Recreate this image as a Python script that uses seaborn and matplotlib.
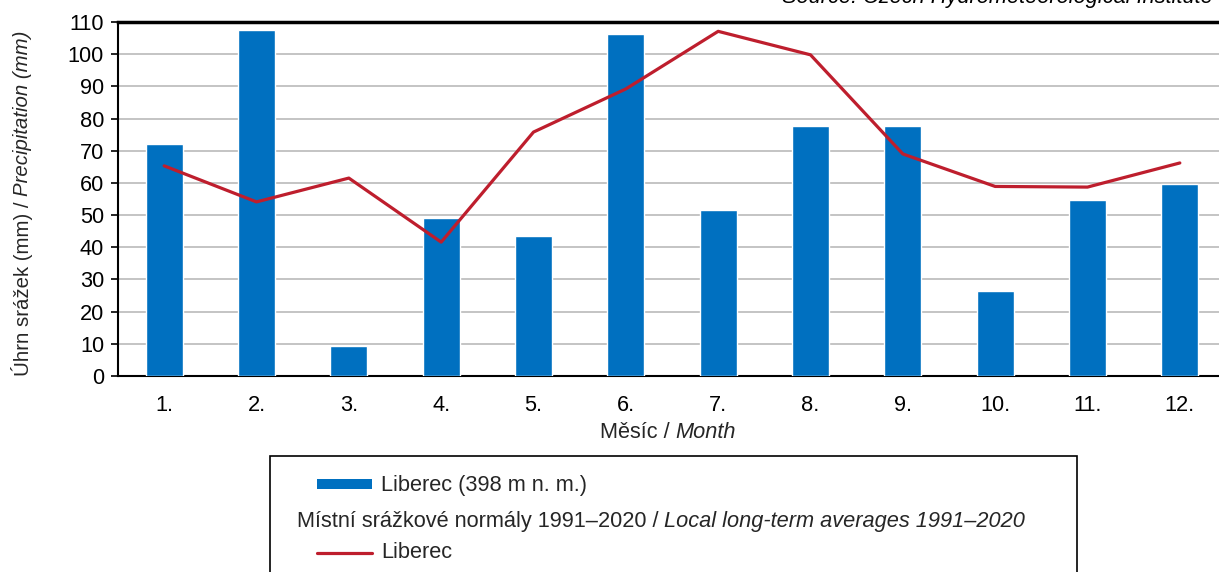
import matplotlib
matplotlib.use("Agg")
import matplotlib.pyplot as plt
import seaborn as sns
import pandas as pd
import numpy as np
from matplotlib.patches import Rectangle
from matplotlib.lines import Line2D

months = ["1.", "2.", "3.", "4.", "5.", "6.", "7.", "8.", "9.", "10.", "11.", "12."]
precip_2021 = [72.1, 107.5, 9.3, 49.1, 43.5, 106.4, 51.7, 77.7, 77.7, 26.4, 54.8, 59.8]
normal_1991_2020 = [65.3, 54.1, 61.5, 41.6, 75.8, 89.2, 107.1, 99.8, 69.0, 58.9, 58.7, 66.2]
yticks = list(range(0, 111, 10))

BLUE = "#0070C0"
RED = "#BE1E2D"

sns.set_theme(style="white")
plt.rcParams["font.family"] = ["Liberation Sans", "DejaVu Sans"]

W, H = 1219, 572
fig = plt.figure(figsize=(W / 100, H / 100), dpi=100)

def fx(px):
    return px / W

def fy(py):
    return 1 - py / H

fs = 15.7
fs_y = 14.7

left, right, top, bottom = 118, 1226, 22, 376
ax = fig.add_axes([fx(left), fy(bottom), fx(right - left), fy(top) - fy(bottom)])

df = pd.DataFrame({"month": months, "precip": precip_2021, "normal": normal_1991_2020})
sns.barplot(data=df, x="month", y="precip", color=BLUE, width=0.4, saturation=1,
            ax=ax, zorder=3)
df["pos"] = np.arange(len(months))
sns.lineplot(data=df, x="pos", y="normal", color=RED, linewidth=2.3, ax=ax, zorder=4)

ax.set_xlim(-0.5, len(months) - 0.5)
ax.set_ylim(0, 110)
ax.set_yticks(yticks)
ax.set_yticklabels([str(v) for v in yticks], fontsize=fs, color="black")
ax.set_xticks(np.arange(len(months)))
ax.set_xticklabels(months, fontsize=fs, color="black")
ax.tick_params(axis="x", which="major", length=0, pad=14)
ax.set_xticks(np.arange(len(months) + 1) - 0.5, minor=True)
ax.tick_params(axis="x", which="minor", length=5, width=1.2, color="black", direction="out")
ax.tick_params(axis="y", length=5, width=1.2, color="black", direction="out", pad=5, left=True)
ax.set_xlabel("")
ax.set_ylabel("")
ax.yaxis.grid(True, color="#c4c4c4", linewidth=1.4, zorder=0)
ax.set_axisbelow(True)
for side in ["left", "bottom"]:
    ax.spines[side].set_color("black")
    ax.spines[side].set_linewidth(1.5)
ax.spines["top"].set_color("black")
ax.spines["top"].set_linewidth(2.5)
ax.spines["right"].set_visible(False)

fig.canvas.draw()
renderer = fig.canvas.get_renderer()

# Source text (cut off at top, as in the reference)
fig.text(fx(1213), fy(3), "Source: Czech Hydrometeorological Institute", ha="right",
         va="baseline", fontsize=fs, style="italic", color="black")

# X label mixed style
t1 = fig.text(0, 0, "Měsíc / ", fontsize=fs)
t2 = fig.text(0, 0, "Month", fontsize=fs, style="italic")
w1 = t1.get_window_extent(renderer).width
w2 = t2.get_window_extent(renderer).width
cx = 668
x0 = cx - (w1 + w2) / 2
t1.set_position((fx(x0), fy(433)))
t1.set_va("center")
t2.set_position((fx(x0 + w1), fy(433)))
t2.set_va("center")

# Y label mixed style (rotated)
y1 = fig.text(0, 0, "Úhrn srážek (mm) / ", fontsize=fs_y, rotation=90)
y2 = fig.text(0, 0, "Precipitation (mm)", fontsize=fs_y, rotation=90, style="italic")
h1 = y1.get_window_extent(renderer).height
h2 = y2.get_window_extent(renderer).height
cy = 203
ybot = cy + (h1 + h2) / 2
y1.set_position((fx(22), fy(ybot)))
y1.set_ha("center"); y1.set_va("bottom")
y2.set_position((fx(22), fy(ybot - h1)))
y2.set_ha("center"); y2.set_va("bottom")

# Legend box
fig.add_artist(Rectangle((fx(270), fy(600)), fx(1077 - 270), fy(456) - fy(600),
                         transform=fig.transFigure, facecolor="white",
                         edgecolor="black", linewidth=1.2))
fig.add_artist(Rectangle((fx(317), fy(489)), fx(55), fy(479) - fy(489),
                         transform=fig.transFigure, facecolor=BLUE, edgecolor="none"))
fig.text(fx(381), fy(485), "Liberec (398 m n. m.)", fontsize=fs, va="center")
m1 = fig.text(fx(297), fy(522), "Místní srážkové normály 1991–2020 / ", fontsize=fs, va="center")
mw = m1.get_window_extent(renderer).width
fig.text(fx(297 + mw), fy(522), "Local long-term averages 1991–2020", fontsize=fs,
         va="center", style="italic")
fig.add_artist(Line2D([fx(317), fx(372)], [fy(553), fy(553)], transform=fig.transFigure,
                      color=RED, linewidth=2.3))
fig.text(fx(381), fy(553), "Liberec", fontsize=fs, va="center")

fig.savefig("out.png", dpi=100)
